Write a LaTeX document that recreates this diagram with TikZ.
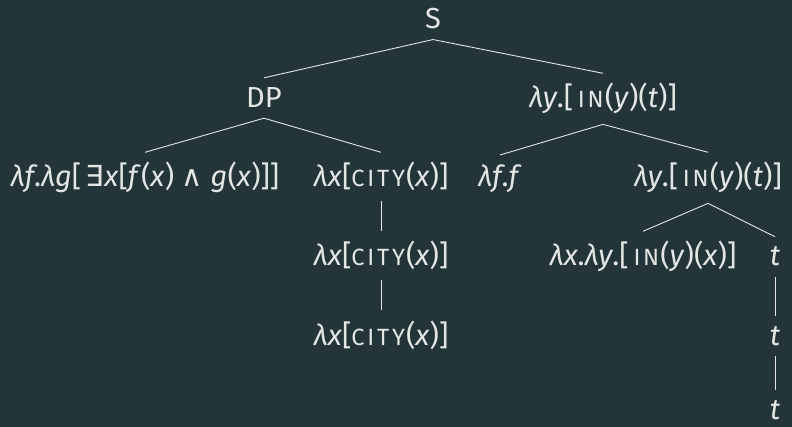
\documentclass[tikz,border=0pt]{standalone}
\usepackage{fontspec}
\setmainfont{Fira Sans}
\newfontfamily\symfont{DejaVu Sans}
\newcommand\smc[1]{{\fontsize{23.5}{26}\selectfont\addfontfeature{LetterSpace=12}#1\kern1pt}}
\newcommand\sym[1]{{\symfont #1}}
\newcommand\vr[1]{\textit{#1}}
\definecolor{bgcol}{RGB}{36,53,57}
\definecolor{fgcol}{RGB}{228,230,230}

\begin{document}
\begin{tikzpicture}[x=1pt, y=-1pt]
        \tikzset{tree node/.style={anchor=base, text=fgcol, inner xsep=2pt, inner ysep=10pt,
                font=\fontsize{29}{32}\selectfont},
            branch/.style={draw=fgcol, line width=0.9pt}}
        \fill[bgcol] (0,0) rectangle (792,427);
        \useasboundingbox (0,0) rectangle (792,427);
        % root and first level
        \node[tree node] (S) at (433,29) {S};
        \node[tree node] (DP) at (264,108) {DP};
        \node[tree node] (VP) at (603,108) {\vr{λy}.[\,\smc{IN}(\vr{y})(\vr{t})]};
        % second level
        \node[tree node] (D) at (145,187) {\vr{λf}.\vr{λg}[\,\sym{∃}\vr{x}[\vr{f}(\vr{x}) \sym{∧} \vr{g}(\vr{x})]]};
        \node[tree node] (NP) at (381,187) {\vr{λx}[\smc{CITY}(\vr{x})]};
        \node[tree node] (ID) at (500,187) {\vr{λf}.\vr{f}};
        \node[tree node] (PP) at (708,187) {\vr{λy}.[\,\smc{IN}(\vr{y})(\vr{t})]};
        % lower levels
        \node[tree node] (NP2) at (381,266) {\vr{λx}[\smc{CITY}(\vr{x})]};
        \node[tree node] (NP3) at (381,345) {\vr{λx}[\smc{CITY}(\vr{x})]};
        \node[tree node] (P) at (643,266) {\vr{λx}.\vr{λy}.[\,\smc{IN}(\vr{y})(\vr{x})]};
        \node[tree node] (T1) at (775,266) {\vr{t}};
        \node[tree node] (T2) at (775,345) {\vr{t}};
        \node[tree node] (T3) at (775,419) {\vr{t}};
        % branches
        \draw[branch] (DP.north) -- (S.south) -- (VP.north);
        \draw[branch] (D.north) -- (DP.south) -- (NP.north);
        \draw[branch] (ID.north) -- (VP.south) -- (PP.north);
        \draw[branch] (P.north) -- (PP.south) -- (T1.north);
        \draw[branch] (NP.south) -- (NP2.north);
        \draw[branch] (NP2.south) -- (NP3.north);
        \draw[branch] (T1.south) -- (T2.north);
        \draw[branch] (T2.south) -- (T3.north);
    \end{tikzpicture}
\end{document}
